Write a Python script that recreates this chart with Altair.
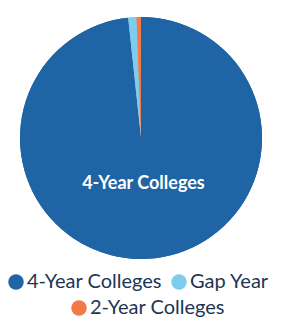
import altair as alt
import pandas as pd

categories = ["4-Year Colleges", "Gap Year", "2-Year Colleges"]
shares = [98.3, 1.1, 0.6]
colors = ["#1f64a4", "#7fcdee", "#f07a48"]

df = pd.DataFrame({
    "category": categories,
    "cat2": categories,
    "share": shares,
    "order": [0, 1, 2],
})

FONT = "Lato"
LABEL_COLOR = "#1c3553"

common_legend = dict(
    title=None,
    orient="none",
    direction="horizontal",
    symbolType="circle",
    symbolSize=240,
    symbolStrokeWidth=0,
    labelFontSize=20,
    labelFont=FONT,
    labelColor=LABEL_COLOR,
    labelLimit=300,
    columnPadding=7,
    labelOffset=1,
)

base = alt.Chart(df).encode(
    theta=alt.Theta("share:Q", stack=True),
    order=alt.Order("order:Q"),
)

pie1 = base.mark_arc(outerRadius=121).encode(
    color=alt.Color(
        "category:N",
        scale=alt.Scale(domain=categories, range=colors),
        sort=categories,
        legend=alt.Legend(values=categories[:2], legendX=-14, legendY=255, **common_legend),
    )
)

# second scale (different domain order so its legend stays separate)
dom2 = [categories[2], categories[0], categories[1]]
rng2 = [colors[2], colors[0], colors[1]]
pie2 = base.mark_arc(outerRadius=121).encode(
    fill=alt.Fill(
        "cat2:N",
        scale=alt.Scale(domain=dom2, range=rng2),
        legend=alt.Legend(values=categories[2:], legendX=49, legendY=281, **common_legend),
    )
)

labels = base.transform_calculate(
    lab="datum.share > 50 ? datum.category : ''"
).mark_text(radius=46, fontSize=18, fontWeight="bold", font=FONT, color="white").encode(
    text="lab:N"
)

chart = (pie1 + pie2 + labels).properties(
    width=242, height=242,
    padding={"left": 12, "top": 9, "right": 13, "bottom": 59},
    autosize=alt.AutoSizeParams(type="none"),
).configure_view(stroke=None)

chart.save("out.html", embed_options={"renderer": "svg", "actions": False})
